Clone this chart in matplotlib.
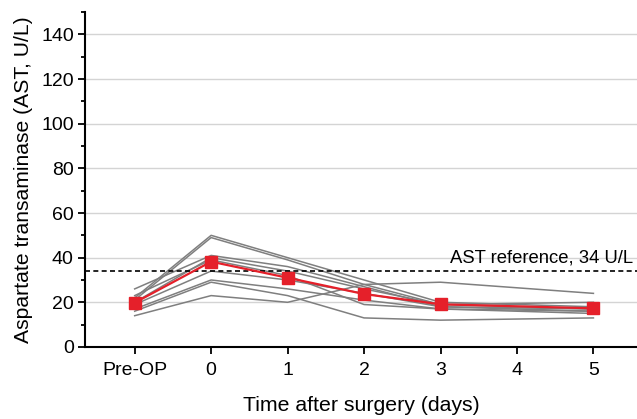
import matplotlib
matplotlib.use("Agg")
import matplotlib.pyplot as plt
from matplotlib.ticker import MultipleLocator

plt.rcParams['font.family'] = ['Liberation Sans', 'DejaVu Sans']

# time points (Pre-OP placed at -1)
x_pos = [-1, 0, 1, 2, 3, 5]
tick_pos = [-1, 0, 1, 2, 3, 4, 5]
tick_labels = ['Pre-OP', '0', '1', '2', '3', '4', '5']

# individual patients
patients = [
    [22, 50, 40, 30, 20, 18],
    [21, 49, 39, 28, 19, 17],
    [26, 41, 36, 27, 18, 17],
    [20, 40, 34, 26, 19, 20],
    [19, 34, 30, 24, 18, 16],
    [17, 30, 26, 21, 17, 16],
    [16, 29, 23, 13, 12, 13],
    [14, 23, 20, 28, 29, 24],
    [23, 39, 32, 19, 17, 15],
]
mean_vals = [19.8, 38.2, 31.0, 23.7, 19.1, 17.3]
ref_value = 34

fig = plt.figure(figsize=(6.37, 4.19), dpi=100)
ax = fig.add_axes([0.1334, 0.172, 0.8666, 0.799])

ax.set_ylim(0, 150)
ax.set_xlim(-1.65, 5.57)
ax.yaxis.set_minor_locator(MultipleLocator(10))
ax.set_yticks(range(0, 141, 20))
ax.set_xticks(tick_pos)
ax.set_xticklabels(tick_labels)

ax.grid(axis='y', which='major', color='#d4d4d4', lw=1)
ax.set_axisbelow(True)

for p in patients:
    ax.plot(x_pos, p, color='#7f7f7f', lw=1.1, zorder=2)

ax.axhline(ref_value, color='black', ls=(0, (3, 2)), lw=1.2, zorder=3)
ax.text(5.52, ref_value + 2.2, 'AST reference, 34 U/L', ha='right', va='bottom', fontsize=13.3)

ax.plot(x_pos, mean_vals, color='#e5202a', lw=1.6, marker='s', ms=8, zorder=4)

for s in ['top', 'right']:
    ax.spines[s].set_visible(False)
for s in ['left', 'bottom']:
    ax.spines[s].set_linewidth(1.5)

ax.tick_params(axis='both', which='major', length=5, width=1.3, labelsize=14, direction='out')
ax.tick_params(axis='y', which='minor', length=3, width=1.3)
ax.tick_params(axis='x', pad=6)
ax.tick_params(axis='y', pad=3)

ax.set_ylabel('Aspartate transaminase (AST, U/L)', fontsize=15.2, labelpad=6)
ax.set_xlabel('Time after surgery (days)', fontsize=15.3, labelpad=12)

fig.savefig('out.png', dpi=100)
